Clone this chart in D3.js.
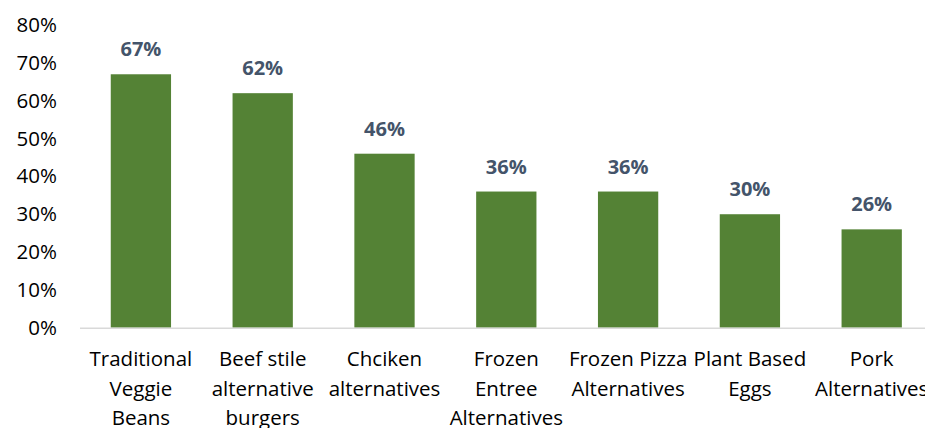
<!DOCTYPE html>
<html>
<head>
<meta charset="utf-8">
<script src="https://cdn.jsdelivr.net/npm/d3@7"></script>
<style>
  html, body { margin: 0; padding: 0; background: #fff; }
  svg { display: block; }
</style>
</head>
<body>
<svg id="chart" width="925" height="428"></svg>
<script>
// Share of respondents per plant-based product category
const categories = [
  ["Traditional", "Veggie", "Beans"],
  ["Beef stile", "alternative", "burgers"],
  ["Chciken", "alternatives"],
  ["Frozen", "Entree", "Alternatives"],
  ["Frozen Pizza", "Alternatives"],
  ["Plant Based", "Eggs"],
  ["Pork", "Alternatives"]
];
const values = [67, 62, 46, 36, 36, 30, 26];
const yTicks = [0, 10, 20, 30, 40, 50, 60, 70, 80];

const font = "'Open Sans', sans-serif";
const fs = 20.5;
const svg = d3.select("#chart");

const x = d3.scaleBand()
  .domain(d3.range(categories.length))
  .range([80, 80 + 7 * 121.8])
  .paddingInner(0.505)
  .paddingOuter(0.2525);

const y = d3.scaleLinear().domain([0, 80]).range([327.7, 25.1]);

// y axis labels
const yAxis = d3.axisLeft(y).tickValues(yTicks).tickFormat(d => d + "%").tickSize(0).tickPadding(0);
const gy = svg.append("g").attr("transform", "translate(57,0)").call(yAxis);
gy.select(".domain").remove();
gy.selectAll("text")
  .attr("font-family", font).attr("font-size", fs).attr("fill", "#000");

// bars
svg.append("g").selectAll("rect")
  .data(values)
  .join("rect")
  .attr("x", (d, i) => x(i))
  .attr("width", x.bandwidth())
  .attr("y", d => y(d))
  .attr("height", d => y(0) - y(d))
  .attr("fill", "#548235");

// baseline
svg.append("line")
  .attr("x1", 80).attr("x2", 925)
  .attr("y1", y(0) + 0.5).attr("y2", y(0) + 0.5)
  .attr("stroke", "#D9D9D9").attr("stroke-width", 1.5);

// value labels
svg.append("g").selectAll("text")
  .data(values)
  .join("text")
  .attr("x", (d, i) => x(i) + x.bandwidth() / 2)
  .attr("y", d => y(d) - 18)
  .attr("text-anchor", "middle")
  .attr("font-family", font).attr("font-size", 20).attr("font-weight", "bold")
  .attr("fill", "#44546A")
  .text(d => d + "%");

// category labels
const cat = svg.append("g").selectAll("text")
  .data(categories)
  .join("text")
  .attr("x", (d, i) => x(i) + x.bandwidth() / 2)
  .attr("y", 366)
  .attr("text-anchor", "middle")
  .attr("font-family", font).attr("font-size", fs).attr("fill", "#000");
cat.selectAll("tspan")
  .data(d => d)
  .join("tspan")
  .attr("x", function () { return d3.select(this.parentNode).attr("x"); })
  .attr("dy", (d, i) => i === 0 ? 0 : 29.5)
  .text(d => d);
</script>
</body>
</html>
